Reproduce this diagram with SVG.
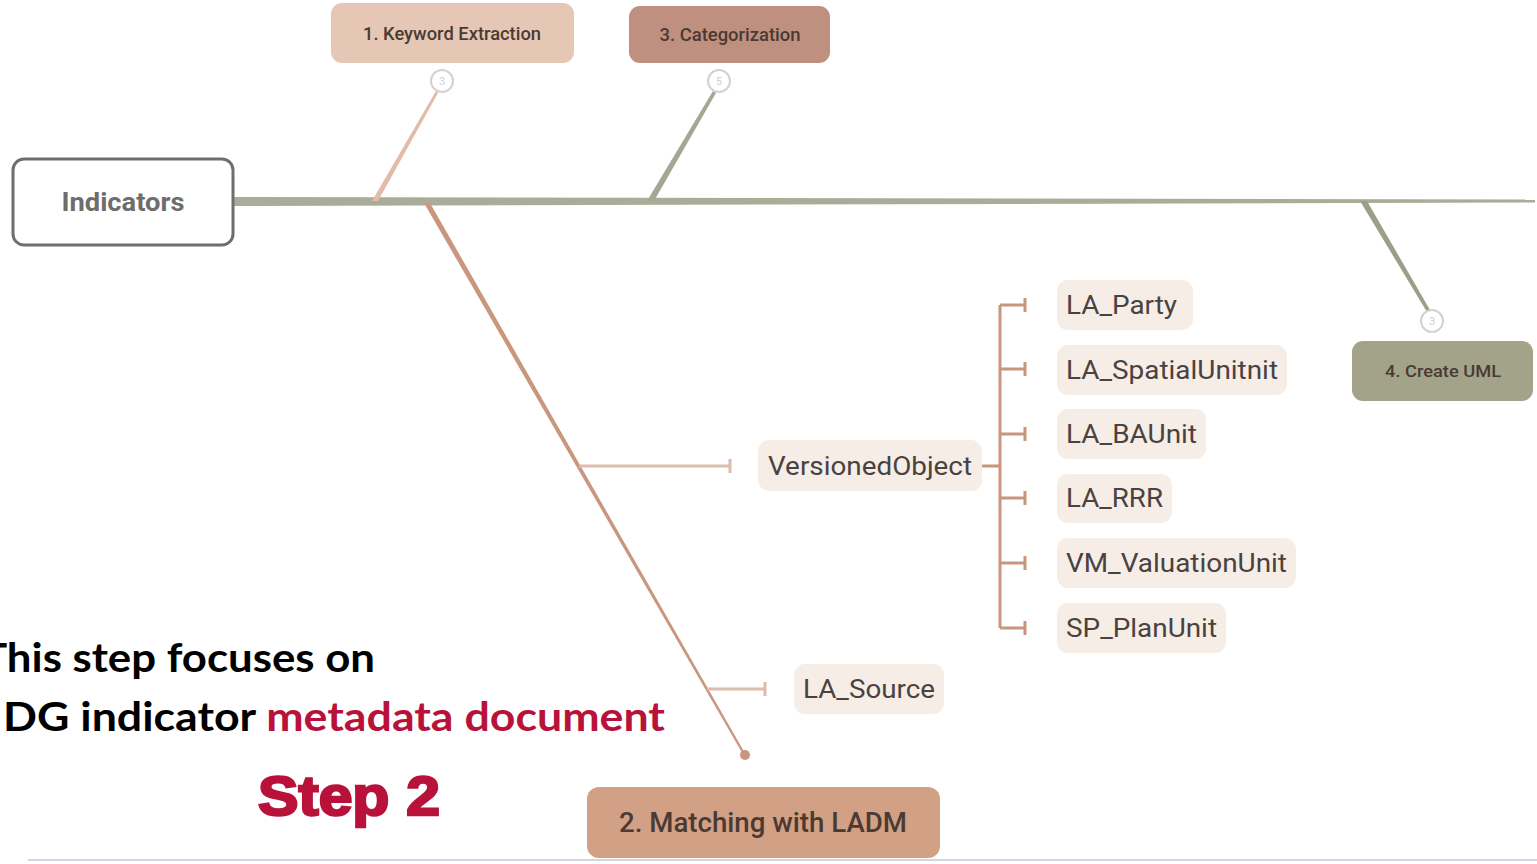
<svg xmlns="http://www.w3.org/2000/svg" width="1537" height="864" viewBox="0 0 1537 864">
<style>
.lbl{font-family:Roboto,"Liberation Sans",sans-serif;font-weight:500;text-anchor:middle;dominant-baseline:central;fill:#4a3a33}
.leaf{fill:#f6ede7}
.leaft{font-family:Roboto,"Liberation Sans",sans-serif;font-size:26px;fill:#4a4240;dominant-baseline:central}
.br{stroke:#c9957c;stroke-width:3;fill:none}
.sub{stroke:#dcbcaa;stroke-width:3;fill:none}
.num{fill:#fff;stroke:#d2d2d2;stroke-width:2}
.numt{font-family:Roboto,"Liberation Sans",sans-serif;font-size:11px;fill:#d0d0d0;text-anchor:middle;dominant-baseline:central}
.ov{font-family:Lato,"Open Sans",sans-serif;font-weight:bold;font-size:41px;fill:#000}
</style>
<rect width="1537" height="864" fill="#fff"/>
<g id="connectors">
<polygon points="234,197 1535,199.5 1535,202.5 234,206" fill="#a9ad98"/>
<polygon points="372,201 378,201 438,93 436,91" fill="#e2bca6"/>
<polygon points="647,201 654,201 716,93 713,91" fill="#a4a893"/>
<polygon points="1360,201 1367,201 1430,310 1427,312" fill="#9b9f88"/>
<polygon points="424,203 430,203 746,755 744,756" fill="#c9967e"/>
<circle cx="745" cy="755" r="5" fill="#c9967e"/>
<path class="sub" d="M579,466 H730 M730,459 V473"/>
<path class="sub" d="M707,689 H765 M765,682 V696"/>
<path class="br" d="M982,466 H1000 M1000,305 V628"/>
<path class="br" d="M1000,305 H1025 M1025,298 V312"/>
<path class="br" d="M1000,369 H1025 M1025,362 V376"/>
<path class="br" d="M1000,434 H1025 M1025,427 V441"/>
<path class="br" d="M1000,498 H1025 M1025,491 V505"/>
<path class="br" d="M1000,563 H1025 M1025,556 V570"/>
<path class="br" d="M1000,628 H1025 M1025,621 V635"/>
<circle class="num" cx="442" cy="81" r="11"/><text class="numt" x="442" y="81">3</text>
<circle class="num" cx="719" cy="81" r="11"/><text class="numt" x="719" y="81">5</text>
<circle class="num" cx="1432" cy="321" r="11"/><text class="numt" x="1432" y="321">3</text>
</g>
<g id="indicators">
<rect x="13" y="159" width="220" height="86" rx="11" fill="#fff" stroke="#6e6f6c" stroke-width="3"/>
<text class="lbl" x="123" y="202" font-size="25" textLength="123" lengthAdjust="spacingAndGlyphs" style="fill:#6d6d6b;font-weight:700">Indicators</text>
</g>
<g id="step1">
<rect x="331" y="3" width="243" height="60" rx="11" fill="#e6c7b5"/>
<text class="lbl" x="452" y="33" font-size="18" textLength="178" lengthAdjust="spacingAndGlyphs">1. Keyword Extraction</text>
</g>
<g id="step3">
<rect x="629" y="6" width="201" height="57" rx="11" fill="#bf8f7f"/>
<text class="lbl" x="730" y="34" font-size="18" textLength="141" lengthAdjust="spacingAndGlyphs">3. Categorization</text>
</g>
<g id="step4">
<rect x="1352" y="341" width="181" height="60" rx="11" fill="#a2a389"/>
<text class="lbl" x="1443" y="371" font-size="17" textLength="116" lengthAdjust="spacingAndGlyphs">4. Create UML</text>
</g>
<g id="step2">
<rect x="587" y="787" width="353" height="71" rx="12" fill="#d2a085"/>
<text class="lbl" x="763" y="823" font-size="27" textLength="288" lengthAdjust="spacingAndGlyphs">2. Matching with LADM</text>
</g>
<g id="versionedobject">
<rect class="leaf" x="758" y="440" width="224" height="51" rx="11"/>
<text class="leaft" x="768" y="466" textLength="204" lengthAdjust="spacingAndGlyphs">VersionedObject</text>
</g>
<g id="lasource">
<rect class="leaf" x="794" y="664" width="150" height="50" rx="11"/>
<text class="leaft" x="803" y="689" textLength="132" lengthAdjust="spacingAndGlyphs">LA_Source</text>
</g>
<g id="laparty">
<rect class="leaf" x="1057" y="280" width="136" height="50" rx="11"/>
<text class="leaft" x="1066" y="305" textLength="111" lengthAdjust="spacingAndGlyphs">LA_Party</text>
</g>
<g id="laspatial">
<rect class="leaf" x="1057" y="345" width="230" height="50" rx="11"/>
<text class="leaft" x="1066" y="370" textLength="212" lengthAdjust="spacingAndGlyphs">LA_SpatialUnitnit</text>
</g>
<g id="labaunit">
<rect class="leaf" x="1057" y="409" width="149" height="50" rx="11"/>
<text class="leaft" x="1066" y="434" textLength="131" lengthAdjust="spacingAndGlyphs">LA_BAUnit</text>
</g>
<g id="larrr">
<rect class="leaf" x="1057" y="474" width="115" height="49" rx="11"/>
<text class="leaft" x="1066" y="498" textLength="97" lengthAdjust="spacingAndGlyphs">LA_RRR</text>
</g>
<g id="vmvaluation">
<rect class="leaf" x="1057" y="538" width="239" height="50" rx="11"/>
<text class="leaft" x="1066" y="563" textLength="221" lengthAdjust="spacingAndGlyphs">VM_ValuationUnit</text>
</g>
<g id="spplanunit">
<rect class="leaf" x="1057" y="603" width="169" height="50" rx="11"/>
<text class="leaft" x="1066" y="628" textLength="151" lengthAdjust="spacingAndGlyphs">SP_PlanUnit</text>
</g>
<g id="overlay">
<text class="ov" x="-19" y="672" textLength="394" lengthAdjust="spacingAndGlyphs">This step focuses on</text>
<text class="ov" x="3" y="731" textLength="662" lengthAdjust="spacingAndGlyphs">DG indicator <tspan fill="#b8123a">metadata document</tspan></text>
<text x="258" y="815" font-family="'Liberation Sans',Arial,sans-serif" font-weight="bold" font-size="56" fill="#b8123a" stroke="#b8123a" stroke-width="2.5" textLength="182" lengthAdjust="spacingAndGlyphs">Step 2</text>
<line x1="28" y1="860" x2="1537" y2="860" stroke="#d5d3e4" stroke-width="2"/>
</g>
</svg>
